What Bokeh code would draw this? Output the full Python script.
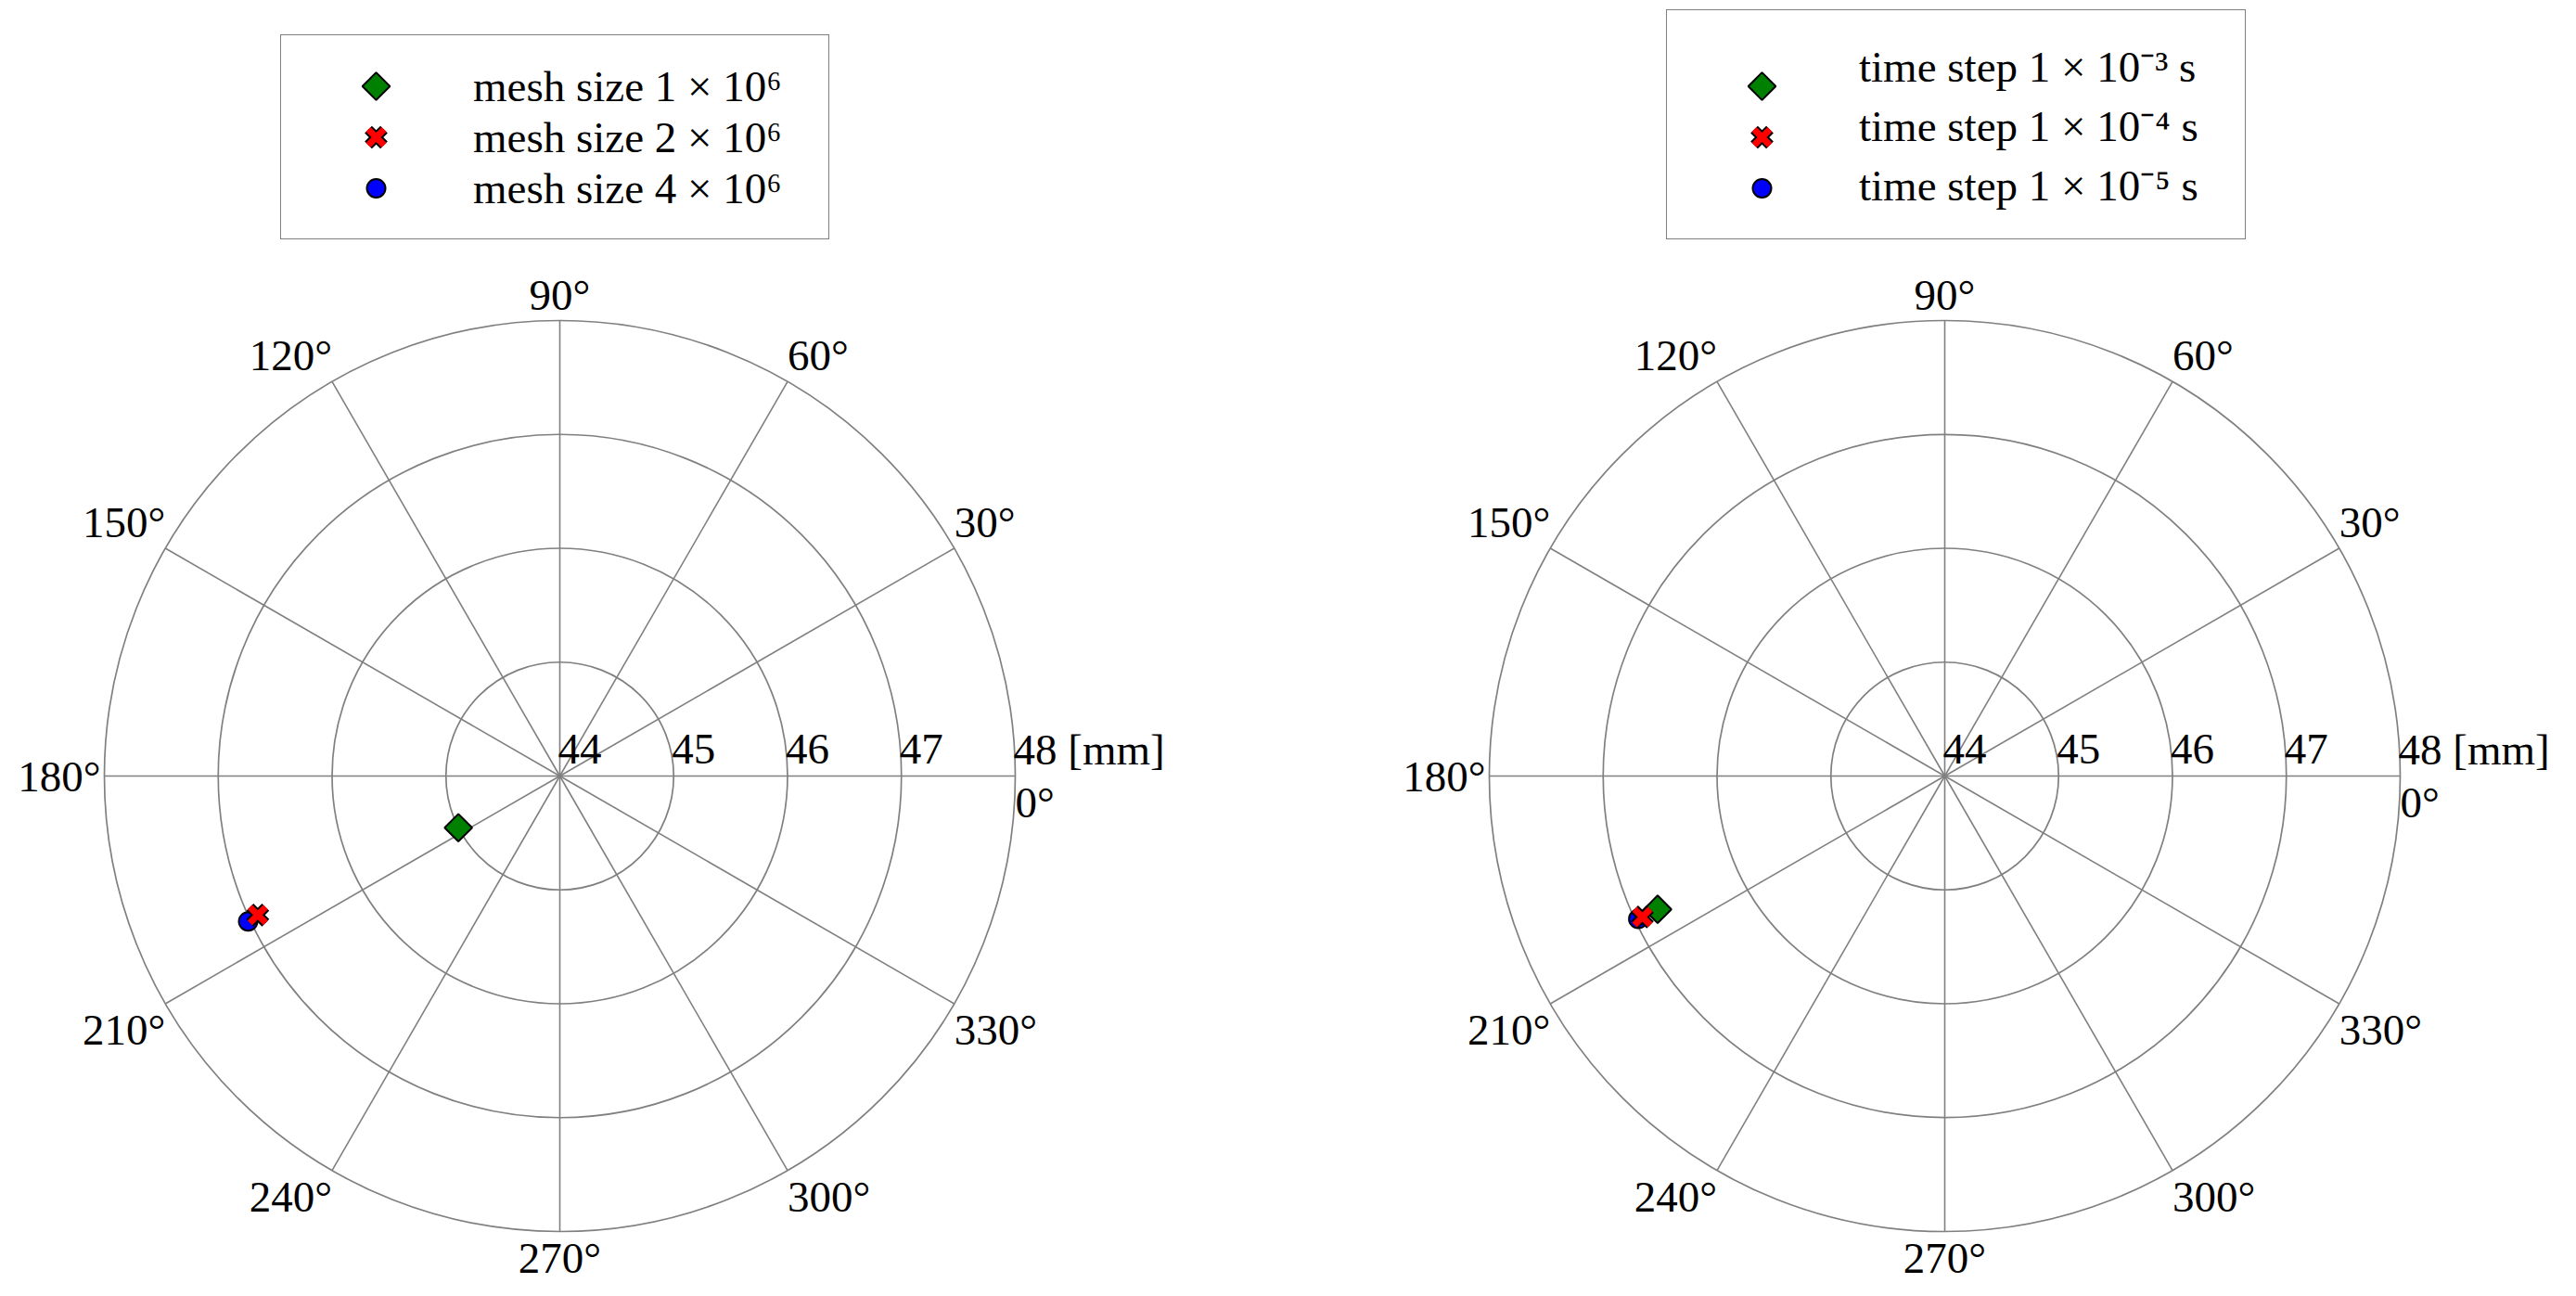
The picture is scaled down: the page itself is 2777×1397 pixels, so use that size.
import numpy as np
from bokeh.plotting import figure
from bokeh.layouts import row
from bokeh.models import Range1d, Legend, LegendItem, ColumnDataSource
from bokeh.core.properties import value
from bokeh.embed import file_html
from bokeh.resources import INLINE

# ---------------- data ----------------
radial_ticks = [44, 45, 46, 47, 48]
radial_labels = ["44", "45", "46", "47", "48 [mm]"]
angle_ticks = [0, 30, 60, 90, 120, 150, 180, 210, 240, 270, 300, 330]
angle_labels = [f"{a}°" for a in angle_ticks]

mesh_labels = ["mesh size 1 × 10⁶", "mesh size 2 × 10⁶", "mesh size 4 × 10⁶"]
mesh_r = [45.00, 46.92, 47.02]          # mm
mesh_theta = [207.0, 204.7, 205.0]      # deg

step_labels = ["time step 1 × 10⁻³ s", "time step 1 × 10⁻⁴ s", "time step 1 × 10⁻⁵ s"]
step_r = [46.78, 46.93, 46.97]
step_theta = [204.9, 205.0, 205.0]

# ---------------- styling ----------------
FONT_NAME = "Liberation Serif"
FONT = value(FONT_NAME)
FS = "47px"
GRID = "#808080"
PX = 122.75          # pixels per mm
W = 1388
H = 1396
CY = 836             # polar centre, px from top
LEG_TOP = 38
LEG_H = 220
PAD = 27
GW = 152
ROW = 55

GREEN = dict(marker="square", angle=np.pi / 4, size=21, fill_color="#008000",
             line_color="black", line_width=2)
BLUE = dict(marker="circle", size=20, fill_color="#0000ff", line_color="black", line_width=2)
XBLK = dict(marker="x", size=24, line_color="black", line_width=11)
XRED = dict(marker="x", size=24, line_color="#ff0000", line_width=7)


def panel(labels, rs, thetas, cx, leg_x, leg_pad_spaces):
    r0 = radial_ticks[0]
    p = figure(width=W, height=H,
               x_range=Range1d(-cx / PX, (W - cx) / PX),
               y_range=Range1d(-(H - CY) / PX, CY / PX),
               x_axis_location=None, y_axis_location=None,
               output_backend="svg", toolbar_location=None, min_border=0)
    p.grid.visible = False
    p.outline_line_color = None

    # circles and spokes
    rad = [t - r0 for t in radial_ticks[1:]]
    p.circle(x=[0] * len(rad), y=[0] * len(rad), radius=rad,
             fill_color=None, line_color=GRID, line_width=1.7)
    R = radial_ticks[-1] - r0
    th = np.deg2rad(angle_ticks)
    p.segment(x0=[0] * len(th), y0=[0] * len(th), x1=R * np.cos(th), y1=R * np.sin(th),
              line_color=GRID, line_width=1.6)

    # angle labels
    c, s = np.cos(th), np.sin(th)
    align = ["left" if cc > 1e-6 else ("right" if cc < -1e-6 else "center") for cc in c]
    yoff, xoff = [], []
    for a, ss in zip(angle_ticks, s):
        if a == 180:
            yoff.append(0); xoff.append(-4)
        elif ss > 1e-6:
            yoff.append(-28); xoff.append(0)
        else:
            yoff.append(28); xoff.append(0)
    src = ColumnDataSource(dict(x=R * c, y=R * s, t=angle_labels, a=align, xo=xoff, yo=yoff))
    p.text(x="x", y="y", text="t", source=src, text_align="a", text_baseline="middle",
           x_offset="xo", y_offset="yo", text_font=FONT, text_font_size=FS, text_color="black")

    # radial labels
    p.text(x=[t - r0 for t in radial_ticks], y=[0] * len(radial_ticks), text=radial_labels,
           text_align="left", text_baseline="middle", x_offset=-2, y_offset=-29,
           text_font=FONT, text_font_size=FS, text_color="black")

    # legend swatches (drawn below a transparent legend box)
    sw_x = (leg_x + PAD + GW / 2 - cx) / PX
    sw_y = [(CY - (LEG_TOP + PAD + ROW / 2 + i * ROW)) / PX for i in range(3)]
    p.scatter(x=[sw_x], y=[sw_y[0]], **GREEN)
    p.scatter(x=[sw_x], y=[sw_y[1]], **XBLK)
    p.scatter(x=[sw_x], y=[sw_y[1]], **XRED)
    p.scatter(x=[sw_x], y=[sw_y[2]], **BLUE)

    # data points
    tr = np.deg2rad(thetas)
    xs = (np.array(rs) - r0) * np.cos(tr)
    ys = (np.array(rs) - r0) * np.sin(tr)
    p.scatter(x=[xs[0]], y=[ys[0]], **GREEN)
    p.scatter(x=[xs[2]], y=[ys[2]], **BLUE)
    p.scatter(x=[xs[1]], y=[ys[1]], **XBLK)
    p.scatter(x=[xs[1]], y=[ys[1]], **XRED)

    # legend box + labels
    dummies = [p.scatter(x=[np.nan], y=[np.nan], marker="circle", size=1, alpha=0) for _ in range(3)]
    pad = "\u00a0" * leg_pad_spaces
    leg = Legend(items=[LegendItem(label=labels[i] + pad, renderers=[dummies[i]]) for i in range(3)],
                 location=(leg_x, H - LEG_TOP - LEG_H),
                 padding=PAD, spacing=0, margin=0,
                 glyph_width=GW, glyph_height=52, label_height=ROW, label_standoff=28,
                 label_text_font=FONT_NAME, label_text_font_size=FS, label_text_baseline="middle",
                 label_text_color="black",
                 border_line_color="black", border_line_width=1.6,
                 background_fill_alpha=0.0)
    p.add_layout(leg)
    return p


p1 = panel(mesh_labels, mesh_r, mesh_theta, 603, 302, 2)
p2 = panel(step_labels, step_r, step_theta, 2096 - W, 1796 - W, 2)
lay = row(p1, p2)

open("out.html", "w").write(file_html(lay, INLINE))
